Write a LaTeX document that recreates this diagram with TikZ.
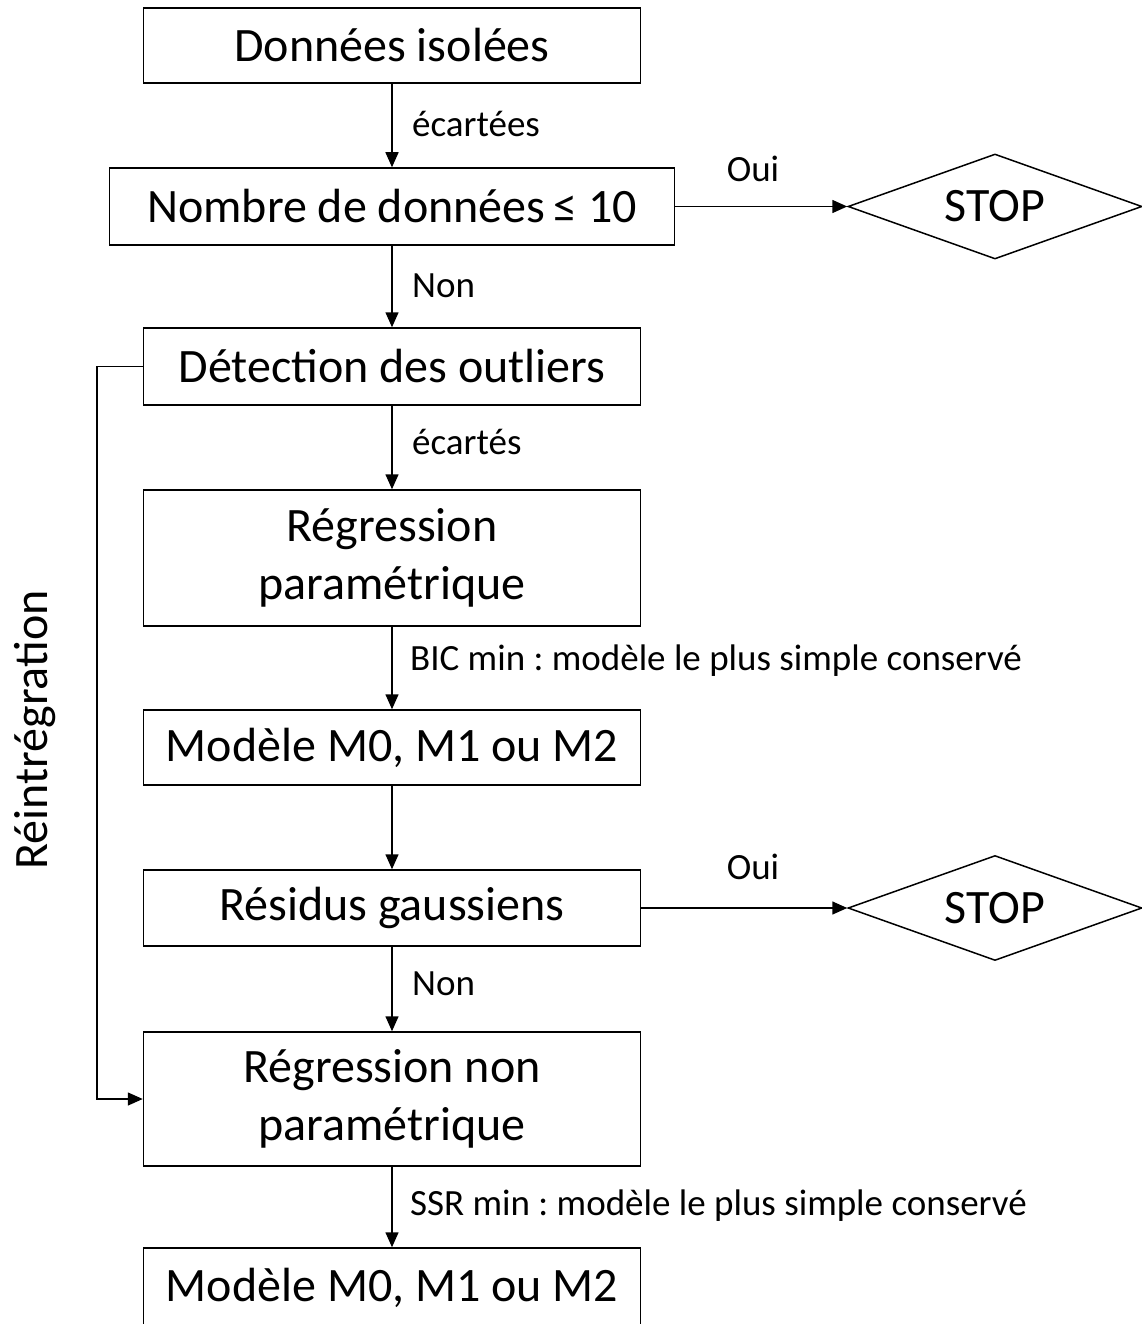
\documentclass[tikz,border=0pt]{standalone}
\usepackage{fontspec}
\setmainfont{Carlito}
\usetikzlibrary{shapes.geometric,arrows.meta}
\frenchspacing
\begin{document}
\begin{tikzpicture}[x=1pt,y=-1pt,
  box/.style={draw, line width=1.5pt, inner sep=0pt, align=center,
    font=\fontsize{48}{58}\selectfont},
  lbl/.style={font=\fontsize{37}{44}\selectfont, inner sep=0pt, anchor=west},
  arr/.style={line width=1.5pt, -{Triangle[length=15pt,width=13pt]}},
  stopbox/.style={diamond, draw, line width=1.5pt, inner sep=0pt, aspect=2.8,
    minimum width=294pt, minimum height=105pt,
    font=\fontsize{48}{58}\selectfont}]
\useasboundingbox (0,0) rectangle (1142,1324);

% main column
\node[box, minimum width=497pt, minimum height=75pt] (n1) at (392,45.5) {Données isolées};
\node[box, minimum width=565pt, minimum height=77pt] (n2) at (392,206.5) {Nombre de données\,≤ 10};
\node[box, minimum width=497pt, minimum height=77pt] (n3) at (392,366.5) {Détection des outliers};
\node[box, minimum width=497pt, minimum height=136pt] (n4) at (392,558) {Régression\\paramétrique};
\node[box, minimum width=497pt, minimum height=75pt] (n5) at (392,747.5) {Modèle M0, M1 ou M2};
\node[box, minimum width=497pt, minimum height=76pt] (n6) at (392,908) {Résidus gaussiens};
\node[box, minimum width=497pt, minimum height=134pt] (n7) at (392,1099) {Régression non\\paramétrique};
\node[box, minimum width=497pt, minimum height=80pt] (n8) at (392,1288) {Modèle M0, M1 ou M2};

% stop decisions
\node[stopbox] (s1) at (995,206.5) {STOP};
\node[stopbox] (s2) at (995,908) {STOP};

% vertical flow
\draw[arr] (n1.south) -- (n1.south |- n2.north);
\draw[arr] (n2.south) -- (n2.south |- n3.north);
\draw[arr] (n3.south) -- (n3.south |- n4.north);
\draw[arr] (n4.south) -- (n4.south |- n5.north);
\draw[arr] (n5.south) -- (n5.south |- n6.north);
\draw[arr] (n6.south) -- (n6.south |- n7.north);
\draw[arr] (n7.south) -- (n7.south |- n8.north);

% exits to STOP
\draw[arr] (n2.east) -- (n2.east -| s1.west);
\draw[arr] (n6.east) -- (n6.east -| s2.west);

% reintegration loop
\draw[arr] (n3.west) -- ++(-46,0) |- (n7.west);

% labels
\node[lbl] (l1) at (412,124) {écartées};
\node[lbl] (l2) at (412,286) {Non};
\node[lbl] (l3) at (412,442) {écartés};
\node[lbl] (l4) at (410,661) {BIC min : modèle le plus simple conservé};
\node[lbl] (l5) at (412,984) {Non};
\node[lbl] (l6) at (410,1206) {SSR min : modèle le plus simple conservé};
\node[lbl, anchor=center] (o1) at (753,169) {Oui};
\node[lbl, anchor=center] (o2) at (753,867) {Oui};
\node[rotate=90, inner sep=0pt, font=\fontsize{48}{58}\selectfont] (re) at (35,730) {Réintrégration};
\end{tikzpicture}
\end{document}
